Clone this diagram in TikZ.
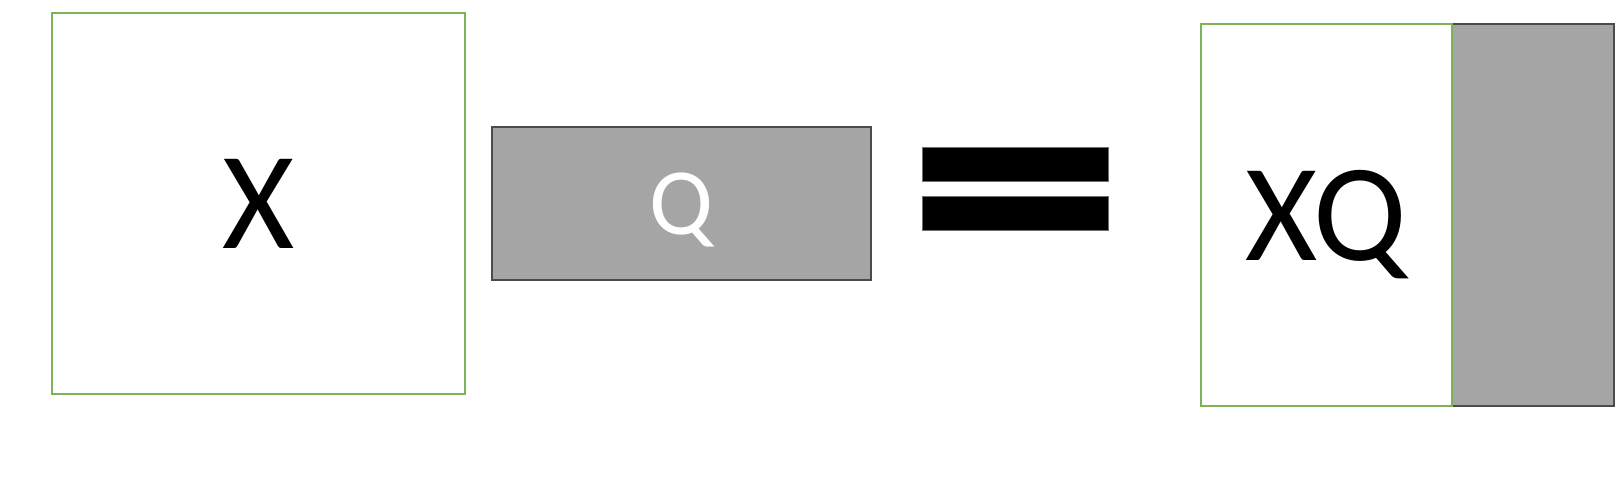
\documentclass[tikz,border=0pt]{standalone}
\usepackage{fontspec}
\setmainfont{Carlito}
\definecolor{boxgreen}{RGB}{125,178,88}
\definecolor{qgray}{RGB}{165,165,165}
\definecolor{qborder}{RGB}{75,75,75}
\tikzset{
  xbox/.style={draw=boxgreen, line width=2pt, fill=white, inner sep=0pt, outer sep=0pt, text depth=0pt},
  qbox/.style={draw=qborder, line width=2pt, fill=qgray, inner sep=0pt, outer sep=0pt, text depth=0pt},
  bar/.style={draw=qborder!80, line width=1pt, fill=black, inner sep=0pt, outer sep=0pt},
}
\begin{document}
\begin{tikzpicture}[x=1pt,y=-1pt]
\useasboundingbox[fill=white] (0,0) rectangle (1618,478);
% X box
\node[xbox, minimum width=413.5pt, minimum height=381pt, font=\fontsize{139}{139}\selectfont] (X) at (258.3,203.5) {X};
% Q box
\node[qbox, minimum width=378.7pt, minimum height=152.6pt, text=white, font=\fontsize{95}{95}\selectfont] (Q) at (681.3,203.5) {Q};
% equals sign
\node[bar, minimum width=186.4pt, minimum height=34.4pt] (eq1) at (1015.5,164.5) {};
\node[bar, minimum width=186.4pt, minimum height=33.7pt] (eq2) at (1015.5,213.2) {};
% result
\node[qbox, minimum width=161.4pt, minimum height=381.4pt] (R) at (1533,215) {};
\node[xbox, minimum width=251.6pt, minimum height=381.4pt, font=\fontsize{139}{139}\selectfont] (XQ) at (1326.5,215) {XQ};
\end{tikzpicture}
\end{document}
